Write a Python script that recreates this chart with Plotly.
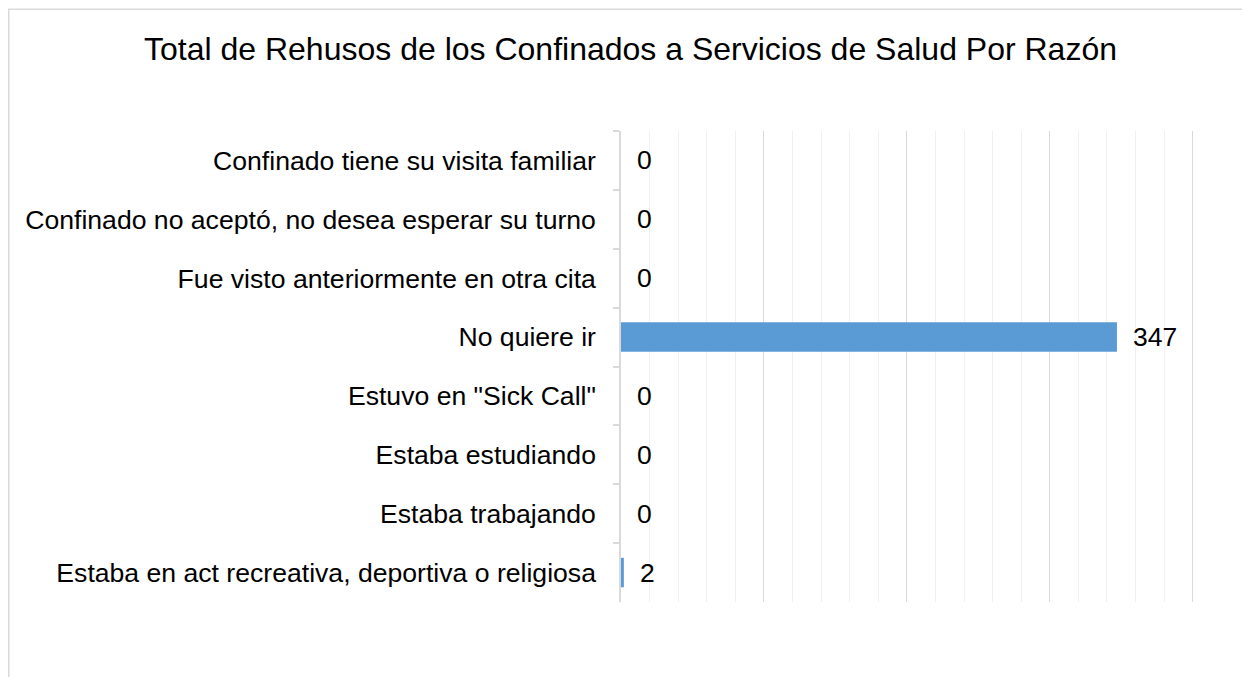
import plotly.graph_objects as go

categories = [
    "Confinado tiene su visita familiar",
    "Confinado no aceptó, no desea esperar su turno",
    "Fue visto anteriormente en otra cita",
    "No quiere ir",
    'Estuvo en "Sick Call"',
    "Estaba estudiando",
    "Estaba trabajando",
    "Estaba en act recreativa, deportiva o religiosa",
]
values = [0, 0, 0, 347, 0, 0, 0, 2]
title_text = "Total de Rehusos de los Confinados a Servicios de Salud Por Razón"

FONT = "Arial, 'Liberation Sans', sans-serif"
OFF = 8  # page body margin
W, H = 1250 - OFF, 677 - OFF
XMAX = 403
L, T, B = 621 - OFF, 131 - OFF, 602 - OFF
R = L + round(572 * XMAX / 400)

fig = go.Figure()
fig.add_trace(go.Bar(
    x=values, y=categories, orientation="h",
    marker=dict(color="#5B9BD5", line=dict(width=0)),
    hoverinfo="x+y",
))

for v, c in zip(values, categories):
    fig.add_annotation(
        x=v, y=c, xref="x", yref="y", text=str(v), showarrow=False,
        xanchor="left", yanchor="middle", xshift=14,
        font=dict(family=FONT, size=26.5, color="#000000"),
    )

# outer chart frame (light gray, cut off at right and bottom)
pw, ph = R - L, B - T
fig.add_shape(
    type="rect", xref="paper", yref="paper",
    x0=(0.75 - L) / pw, x1=(1400 - L) / pw,
    y0=(B - 800) / ph, y1=(B - 1.25) / ph,
    line=dict(color="#D9D9D9", width=1.5), fillcolor="rgba(0,0,0,0)",
    layer="below",
)

fig.update_layout(
    width=W, height=H,
    margin=dict(l=L, r=W - R, t=T, b=H - B, autoexpand=False),
    paper_bgcolor="white", plot_bgcolor="white",
    bargap=0.5,
    showlegend=False,
    title=dict(
        text=title_text, xref="container", yref="container",
        x=(630.5 - OFF) / W, y=1 - (49 - OFF) / H, xanchor="center", yanchor="middle",
        font=dict(family=FONT, size=32, color="#000000"),
    ),
    xaxis=dict(
        range=[0, XMAX], showticklabels=False, ticks="",
        showgrid=True, dtick=100, tick0=0, gridcolor="#D9D9D9", gridwidth=1.2,
        minor=dict(showgrid=True, dtick=20, tick0=0, gridcolor="#F0F0F0", gridwidth=1),
        zeroline=False, showline=False, fixedrange=True,
    ),
    yaxis=dict(
        autorange="reversed", showgrid=False, zeroline=False,
        showline=True, linecolor="#D9D9D9", linewidth=1.5,
        ticks="outside", ticklen=6, tickcolor="#D9D9D9", tickwidth=1.5,
        tickson="boundaries", ticklabelstandoff=18,
        tickfont=dict(family=FONT, size=26.6, color="#000000"),
        fixedrange=True,
    ),
)

fig.write_html("out.html")
